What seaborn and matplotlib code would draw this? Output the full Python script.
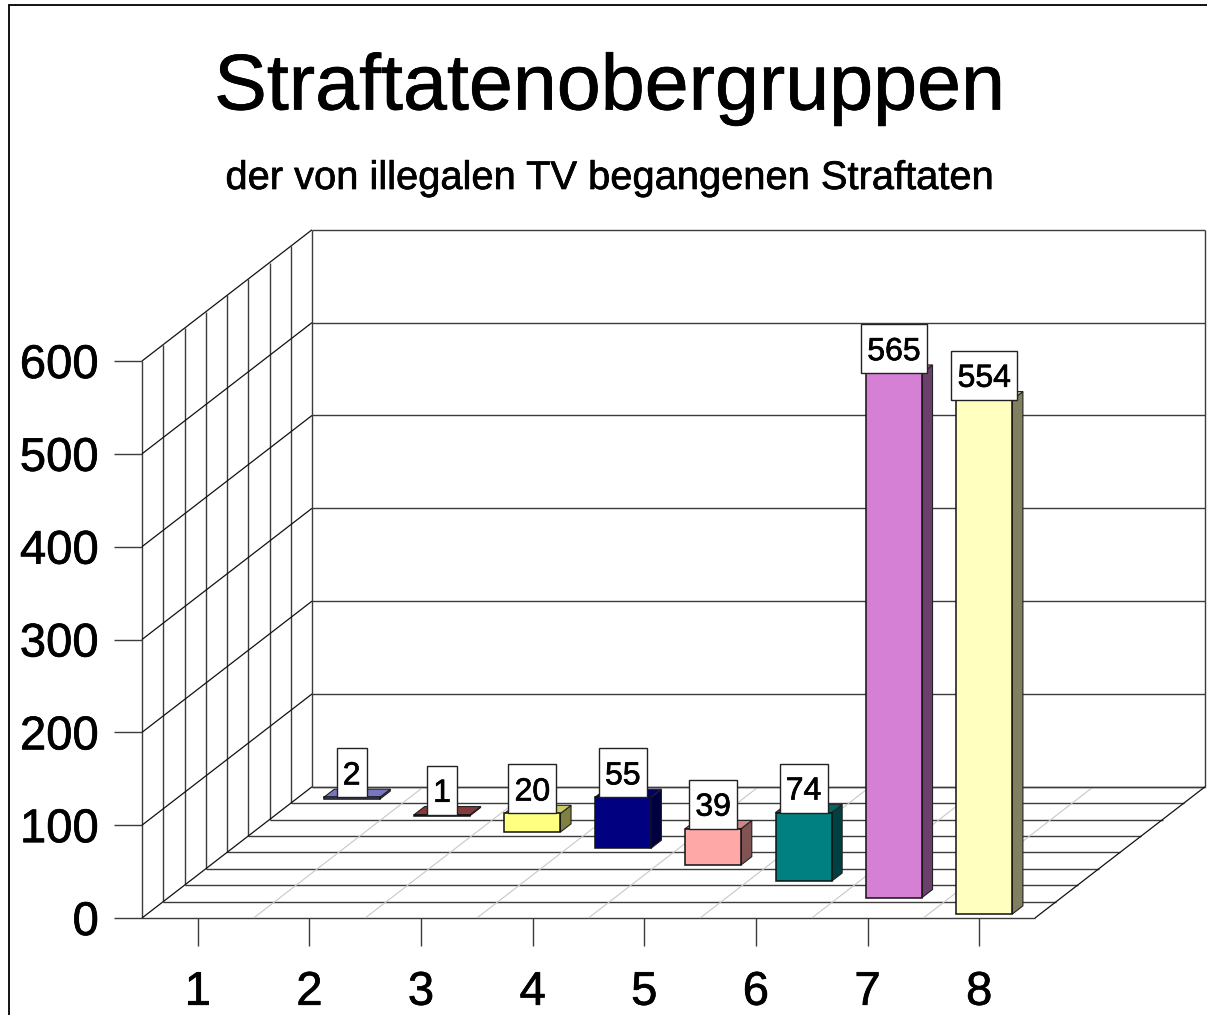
import matplotlib
matplotlib.use("Agg")
import matplotlib.pyplot as plt
import matplotlib.patheffects as pe
from matplotlib.colors import to_rgb
from matplotlib.lines import Line2D
from matplotlib.patches import Polygon, Rectangle
import numpy as np
import seaborn as sns

categories = [1, 2, 3, 4, 5, 6, 7, 8]
values = [2, 1, 20, 55, 39, 74, 565, 554]
bar_colors = ["#9595EE", "#A84A4A", "#FFFF80", "#000080", "#FFA8A8", "#008080", "#D580D5", "#FFFFC0"]
y_ticks = [0, 100, 200, 300, 400, 500, 600]

title = "Straftatenobergruppen"
subtitle = "der von illegalen TV begangenen Straftaten"

sns.set_style("white")
plt.rcParams["font.family"] = ["Liberation Sans", "DejaVu Sans"]

W, H = 1207, 1015
fig = plt.figure(figsize=(W / 100, H / 100), dpi=100)
fig.patch.set_facecolor("white")

# axes = the front plane of the fake 3d box, in image pixels
left, right, y0, y600 = 142, 1035, 918, 361
ax = fig.add_axes([left / W, 1 - y0 / H, (right - left) / W, (y0 - y600) / H])
ax.set_xlim(-0.5, 7.5)
ax.set_ylim(0, 600)

px_x = 8 / (right - left)
px_y = 600 / (y0 - y600)

# one depth step along the floor
n_depth = 8
step_x = 21.25 * px_x
step_y = 16.4 * px_y
line_col = "#3c3c3c"
bold = [pe.withStroke(linewidth=0.5, foreground="black")]


def wall_line(xs, ys, color=line_col, lw=1.0):
    ax.plot(xs, ys, color=color, lw=lw, clip_on=False, zorder=1, solid_capstyle="butt")


# floor, depth lines and walls
for d in range(n_depth + 1):
    wall_line([-0.5 + d * step_x, 7.5 + d * step_x], [d * step_y, d * step_y])
    wall_line([-0.5 + d * step_x, -0.5 + d * step_x], [d * step_y, 600 + d * step_y])

# category lines on the floor are light
for c in range(1, 8):
    wall_line([c - 0.5, c - 0.5 + n_depth * step_x], [0, n_depth * step_y], color="#c8c8c8", lw=0.8)

# value gridlines over left and back wall
for v in y_ticks:
    bx = -0.5 + n_depth * step_x
    by = v + n_depth * step_y
    wall_line([-0.5, bx], [v, by], color="#111111", lw=0.9)
    wall_line([bx, 7.5 + n_depth * step_x], [by, by])

wall_line([7.5, 7.5 + n_depth * step_x], [0, n_depth * step_y], color="#111111", lw=0.9)
wall_line([7.5 + n_depth * step_x] * 2, [n_depth * step_y, 600 + n_depth * step_y])

# bars sit a quarter step into their own depth slice
depth = [(7 - c) + 0.24 for c in range(8)]
bar_x = [c + d * step_x for c, d in zip(range(8), depth)]
bar_base = [d * step_y for d in depth]
bar_w = 56 * px_x
spacing = bar_x[1] - bar_x[0]

sns.barplot(x=bar_x, y=values, bottom=bar_base, native_scale=True, width=bar_w / spacing,
            errorbar=None, color="white", edgecolor="#111111", linewidth=1.1, zorder=4, ax=ax)
fronts = [p for p in ax.patches if isinstance(p, Rectangle)]
for patch, col in zip(fronts, bar_colors):
    patch.set_facecolor(col)
    patch.set_clip_on(False)

ax.set_xlim(-0.5, 7.5)
ax.set_ylim(0, 600)

dx = 0.5 * step_x
dy = 0.5 * step_y
for x, b, v, col, cat in zip(bar_x, bar_base, values, bar_colors, categories):
    l, r, t = x - bar_w / 2, x + bar_w / 2, b + v
    rgb = np.array(to_rgb(col))
    side = Polygon([(r, b), (r + dx, b + dy), (r + dx, t + dy), (r, t)], closed=True,
                   facecolor=rgb * 0.5, edgecolor="#222222", lw=0.8, zorder=3.5, clip_on=False)
    top = Polygon([(l, t), (l + dx, t + dy), (r + dx, t + dy), (r, t)], closed=True,
                  facecolor=rgb * 0.8, edgecolor="#222222", lw=0.8, zorder=3.5, clip_on=False)
    ax.add_patch(side)
    ax.add_patch(top)

    # value label box stands on the front top edge
    label = str(v)
    box_w = (12 + 18 * len(label)) * px_x
    box_h = 49 * px_y
    ax.add_patch(Rectangle((x - box_w / 2, t), box_w, box_h, facecolor="white", edgecolor="#222222",
                           lw=1.0, zorder=5, clip_on=False))
    ax.text(x, t + box_h * 0.5, label, ha="center", va="center_baseline", fontsize=23,
            color="black", zorder=6, clip_on=False, path_effects=bold)

ax.set_xticks(range(8))
ax.set_xticklabels(categories)
ax.set_yticks(y_ticks)
ax.tick_params(axis="both", length=20, width=1.0, color=line_col, labelsize=34, labelcolor="black",
               left=True, bottom=True)
ax.tick_params(axis="x", pad=18)
ax.tick_params(axis="y", pad=11)
for lab in ax.get_xticklabels() + ax.get_yticklabels():
    lab.set_path_effects(bold)
ax.set_xlabel("")
ax.set_ylabel("")
ax.patch.set_visible(False)
sns.despine(ax=ax, top=True, right=True, left=True, bottom=True)

fig.text(610 / W, 1 - 89 / H, title, ha="center", va="center", fontsize=56.9, color="black",
         path_effects=bold)
fig.text(610 / W, 1 - 178 / H, subtitle, ha="center", va="center", fontsize=28.7, color="black",
         path_effects=bold)

# picture frame, only left and top are inside the image
fig.add_artist(Line2D([9 / W, 9 / W], [0, 1 - 5 / H], color="black", lw=1.3))
fig.add_artist(Line2D([9 / W, 1], [1 - 5 / H, 1 - 5 / H], color="black", lw=1.3))

fig.savefig("out.png", dpi=100)
